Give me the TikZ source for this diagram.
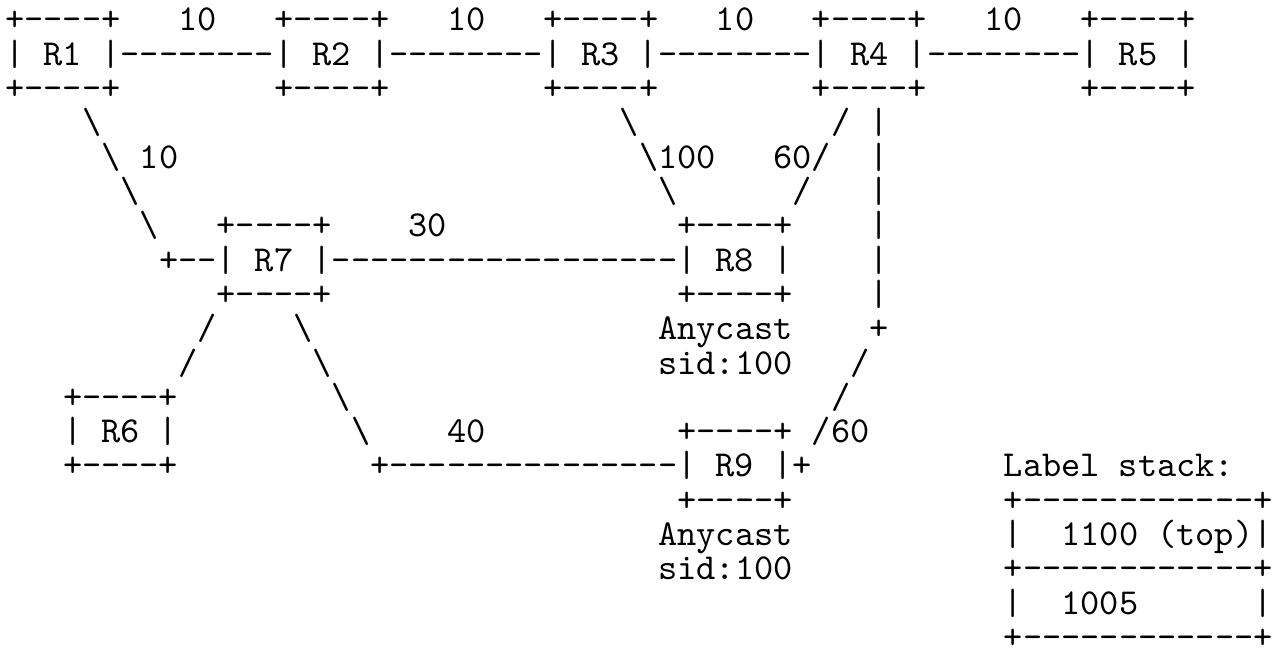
\documentclass[tikz,border=0pt]{standalone}
\usepackage{fontspec}
\setmonofont{lmmono10-regular.otf}
\newcommand{\bsl}{\textbackslash}
\tikzset{
  ascii/.style={font=\ttfamily\fontsize{36.57pt}{34.3pt}\selectfont,
    anchor=base west, inner sep=0pt, outer sep=0pt}
}

\begin{document}
\begin{tikzpicture}[x=19.2pt, y=-34.3pt, every node/.style={ascii}]
  \useasboundingbox[fill=white] (-5.4pt, 31pt) rectangle (1268.6pt, -624pt);

  \foreach \i/\c in {1/0, 2/14, 3/28, 4/42, 5/56} {
    \node (top\i) at (\c, 0) {+----+};
    \node (r\i) at (\c, 1) {| R\i{} |};
    \node (bot\i) at (\c, 2) {+----+};
  }
  \foreach \c [count=\i] in {9, 23, 37, 51} {
    \node (cost\i) at (\c, 0) {10};
    \node (link\i) at (\c-3, 1) {--------};
  }

  \foreach \r in {3, ..., 6} {
    \node (sl\r) at (\r+1, \r) {\bsl};
  }
  \node (cost17) at (7, 4) {10};

  \node (sl38a) at (32, 3) {\bsl};
  \node (sl38b) at (33, 4) {\bsl};
  \node (cost38) at (34, 4) {100};
  \node (sl38c) at (34, 5) {\bsl};

  \node (sl48a) at (43, 3) {/};
  \node (cost48) at (40, 4) {60};
  \node (sl48b) at (42, 4) {/};
  \node (sl48c) at (41, 5) {/};

  \foreach \r in {3, ..., 8} {
    \node (v49\r) at (45, \r) {|};
  }
  \node (bend49a) at (45, 9) {+};
  \node (sl49a) at (44, 10) {/};
  \node (sl49b) at (43, 11) {/};
  \node (sl49c) at (42, 12) {/};
  \node (cost49) at (43, 12) {60};
  \node (bend49b) at (41, 13) {+};

  \node (top7) at (11, 6) {+----+};
  \node (tail7) at (8, 7) {+--};
  \node (r7) at (11, 7) {| R7 |};
  \node (bot7) at (11, 8) {+----+};
  \node (cost78) at (21, 6) {30};
  \node (link78) at (17, 7) {------------------};

  \node (top8) at (35, 6) {+----+};
  \node (r8) at (35, 7) {| R8 |};
  \node (bot8) at (35, 8) {+----+};
  \node (any8) at (34, 9) {Anycast};
  \node (sid8) at (34, 10) {sid:100};

  \node (sl67a) at (10, 9) {/};
  \node (sl67b) at (9, 10) {/};
  \node (top6) at (3, 11) {+----+};
  \node (r6) at (3, 12) {| R6 |};
  \node (bot6) at (3, 13) {+----+};

  \foreach \r in {9, ..., 12} {
    \node (sl79\r) at (\r+6, \r) {\bsl};
  }
  \node (cost79) at (23, 12) {40};
  \node (link79) at (19, 13) {+---------------};

  \node (top9) at (35, 12) {+----+};
  \node (r9) at (35, 13) {| R9 |};
  \node (bot9) at (35, 14) {+----+};
  \node (any9) at (34, 15) {Anycast};
  \node (sid9) at (34, 16) {sid:100};

  \node (stack) at (52, 13) {Label stack:};
  \node (stacktop) at (52, 14) {+------------+};
  \node (stackl1) at (52, 15) {|};
  \node (label1) at (55, 15) {1100 (top)|};
  \node (stackmid) at (52, 16) {+------------+};
  \node (stackl2) at (52, 17) {|};
  \node (label2) at (55, 17) {1005};
  \node (stackr2) at (65, 17) {|};
  \node (stackbot) at (52, 18) {+------------+};

\end{tikzpicture}
\end{document}
